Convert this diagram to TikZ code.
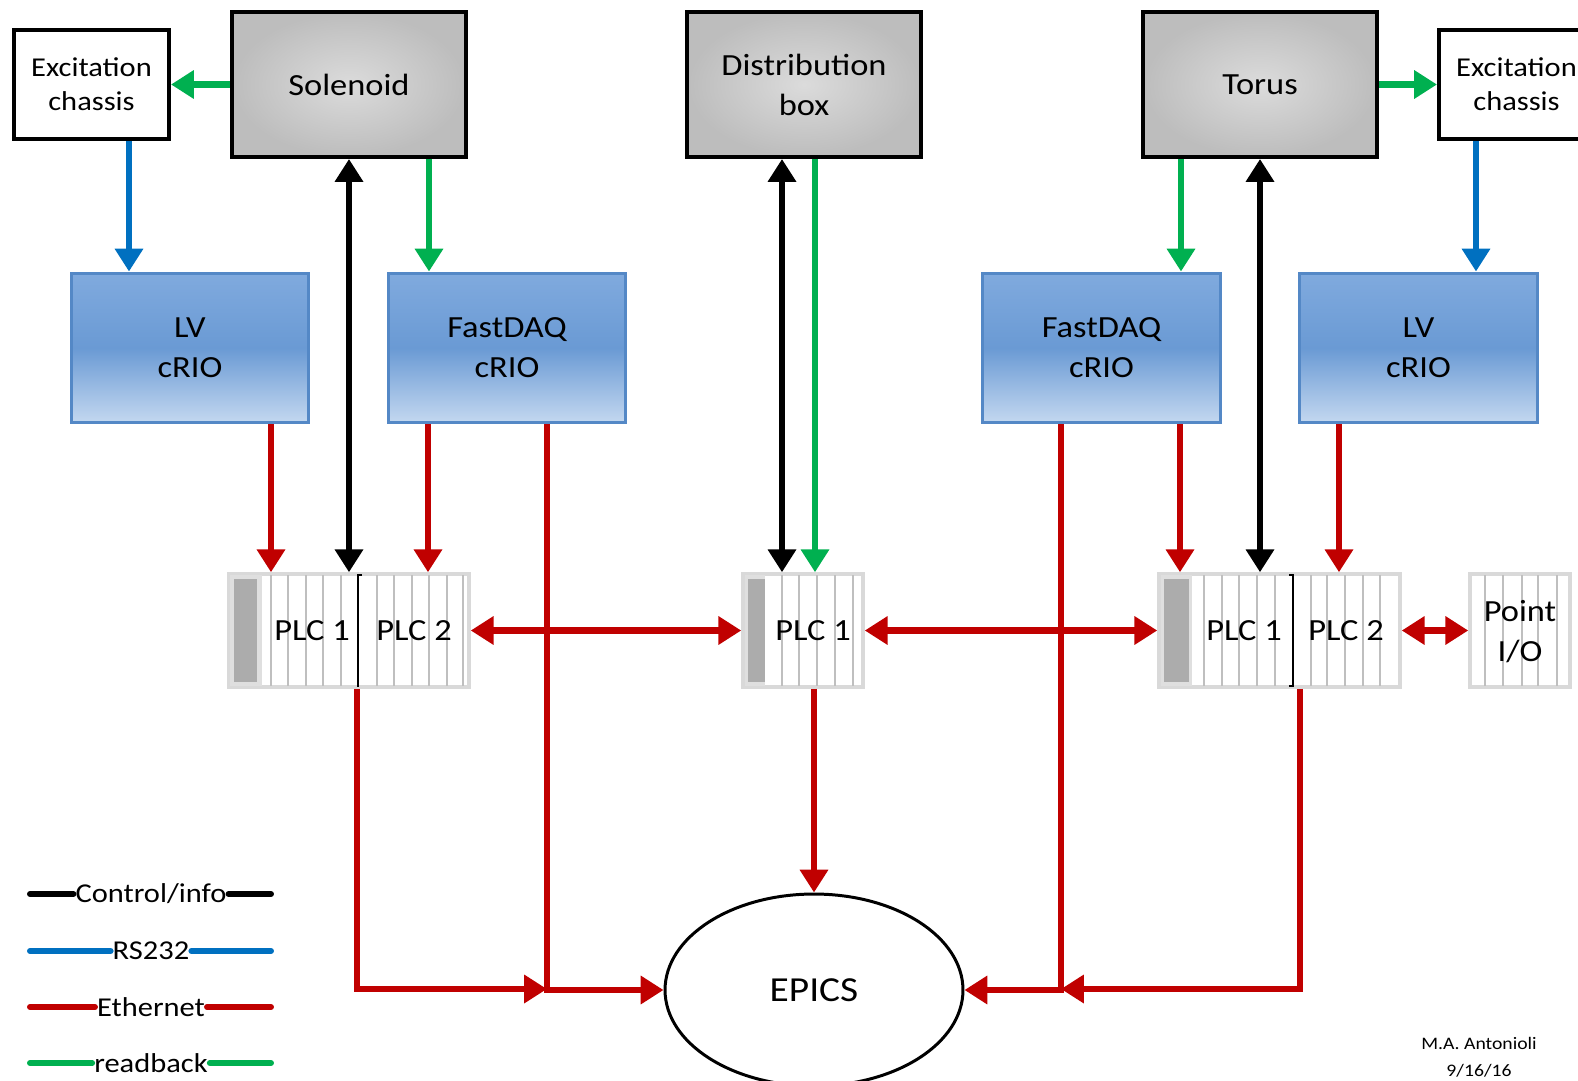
\documentclass[tikz,border=0pt]{standalone}
\usepackage{fontspec}
\setmainfont{Carlito}[FakeStretch=1.12]
\usetikzlibrary{arrows.meta,shapes.geometric}

\definecolor{ethred}{RGB}{192,0,0}
\definecolor{rbgreen}{RGB}{0,176,80}
\definecolor{rsblue}{RGB}{0,112,192}
\definecolor{crioedge}{RGB}{84,136,198}
\definecolor{criotop}{RGB}{128,170,222}
\definecolor{criomid}{RGB}{106,154,212}
\definecolor{criobot}{RGB}{196,216,240}

\tikzset{
  >={Triangle[length=13pt,width=15.5pt]},
  link/.style={line width=3.8pt},
  ctl/.style={link,black},
  eth/.style={link,ethred},
  rs/.style={link,rsblue},
  rb/.style={link,rbgreen},
  keyline/.style={line width=3.4pt,line cap=round},
  txt/.style={inner sep=0pt,align=center,font=\fontsize{17.5}{22.7}\selectfont},
  chassis/.style={draw,line width=2.3pt,fill=white,minimum width=3.1cm,minimum height=2.18cm,txt,font=\fontsize{15.5}{19.3}\selectfont},
  magnet/.style={draw,line width=2.3pt,inner color=gray!28,outer color=gray!52,minimum width=4.68cm,minimum height=2.9cm,txt},
  crio/.style={draw=crioedge,line width=1.7pt,top color=criotop,bottom color=criobot,middle color=criomid,minimum width=4.76cm,minimum height=3cm,txt},
  rack/.style={draw=gray!30,line width=2pt,fill=white,minimum height=2.26cm},
  bezel/.style={fill=gray!25},
  slotdark/.style={fill=gray!65},
  slot/.style={gray!50,line width=0.8pt},
  divider/.style={black,line width=1.2pt},
  plc/.style={txt},
  key/.style={inner sep=1pt,fill=white,font=\fontsize{15.5}{18}\selectfont},
}

\begin{document}
\begin{tikzpicture}[x=0.02cm,y=-0.02cm]
\useasboundingbox (0,0) rectangle (1578,1081);
\clip (0,0) rectangle (1578,1081);

% magnets and excitation
\node[chassis] (excL) at (91.5,84.5) {Excitation\\chassis};
\node[magnet] (sol) at (349,84.5) {Solenoid};
\node[magnet] (dist) at (804,84.5) {Distribution\\box};
\node[magnet] (tor) at (1260,84.5) {Torus};
\node[chassis] (excR) at (1516.5,84.5) {Excitation\\chassis};

% cRIOs
\node[crio] (lvL) at (190,348) {LV\\cRIO};
\node[crio] (daqL) at (507,348) {FastDAQ\\cRIO};
\node[crio] (daqR) at (1101.5,348) {FastDAQ\\cRIO};
\node[crio] (lvR) at (1418.5,348) {LV\\cRIO};

% PLC racks
\node[rack,minimum width=4.8cm] (rackL) at (349,630.5) {};
\node[rack,minimum width=2.4cm] (rackM) at (803,630.5) {};
\node[rack,minimum width=4.82cm] (rackR) at (1279.5,630.5) {};
\node[rack,minimum width=2cm] (pio) at (1520,630.5) {};
\fill[bezel] (230,575) rectangle (262,686);
\fill[slotdark] (234,579) rectangle (257,682);
\fill[bezel] (745,575) rectangle (765,686);
\fill[slotdark] (748,579) rectangle (765,682);
\fill[bezel] (1161,575) rectangle (1192,686);
\fill[slotdark] (1164,579) rectangle (1189,682);
\foreach \x in {271,288,306,323,341,377,394,412,429,447,463,
                782,799,817,835,853,
                1204,1222,1239,1257,1275,1311,1327,1345,1363,1380,
                1485,1503,1522,1538,1557}
  \draw[slot] (\x,575) -- (\x,686);
\draw[divider] (362,575) -- (358,575) -- (358,687);
\draw[divider] (1289,575) -- (1293,575) -- (1293,686) -- (1289,686);

\node[plc] (plc1L) at (312,631) {PLC 1};
\node[plc] (plc2L) at (414,631) {PLC 2};
\node[plc] (plc1M) at (813,631) {PLC 1};
\node[plc] (plc1R) at (1244,631) {PLC 1};
\node[plc] (plc2R) at (1346,631) {PLC 2};
\node[plc] (pioT) at (1520,632) {Point\\I/O};

\node[draw,ellipse,line width=1.7pt,minimum width=5.96cm,minimum height=3.84cm,inner sep=0pt,
      font=\fontsize{20}{24}\selectfont] (epics) at (814,990) {EPICS};

% columns of the vertical links
\coordinate (cRsL) at (129,0);
\coordinate (cRsR) at (1476,0);
\coordinate (cDaqL) at (429,0);
\coordinate (cDaqR) at (1181,0);
\coordinate (cDistC) at (782,0);
\coordinate (cDistR) at (815,0);
\coordinate (cLvL) at (271,0);
\coordinate (cPlcL) at (428,0);
\coordinate (cPlcR) at (1180,0);
\coordinate (cLvR) at (1339,0);
\coordinate (cOutL) at (357,0);
\coordinate (cOutR) at (1300,0);
\coordinate (jL) at (547,989);
\coordinate (jR) at (1061,989);

\draw[rb,->] (sol.west) -- (excL.east);
\draw[rb,->] (tor.east) -- (excR.west);
\draw[rs,->] (excL.south -| cRsL) -- (lvL.north -| cRsL);
\draw[rs,->] (excR.south -| cRsR) -- (lvR.north -| cRsR);
\draw[rb,->] (sol.south -| cDaqL) -- (daqL.north -| cDaqL);
\draw[rb,->] (tor.south -| cDaqR) -- (daqR.north -| cDaqR);
\draw[ctl,<->] (sol.south) -- (rackL.north);
\draw[ctl,<->] (tor.south) -- (rackR.north -| tor.south);
\draw[ctl,<->] (dist.south -| cDistC) -- (rackM.north -| cDistC);
\draw[rb,->] (dist.south -| cDistR) -- (rackM.north -| cDistR);
\draw[eth,->] (lvL.south -| cLvL) -- (rackL.north -| cLvL);
\draw[eth,->] (daqL.south -| cPlcL) -- (rackL.north -| cPlcL);
\draw[eth,->] (daqR.south -| cPlcR) -- (rackR.north -| cPlcR);
\draw[eth,->] (lvR.south -| cLvR) -- (rackR.north -| cLvR);
\draw[eth,<->] (rackL.east) -- (rackM.west);
\draw[eth,<->] (rackM.east) -- (rackR.west);
\draw[eth,<->] (rackR.east) -- (pio.west);
\draw[eth,->] (rackM.south -| epics.north) -- (epics.north);
\draw[eth,->] (daqL.south -| jL) |- (epics.west);
\draw[eth,->] (rackL.south -| cOutL) |- (jL);
\draw[eth,->] (daqR.south -| jR) |- (epics.east);
\draw[eth,->] (rackR.south -| cOutR) |- (jR);

% legend
\coordinate (k1a) at (30,894);  \coordinate (k1b) at (271,894);
\coordinate (k2a) at (30,951);  \coordinate (k2b) at (271,951);
\coordinate (k3a) at (30,1007); \coordinate (k3b) at (271,1007);
\coordinate (k4a) at (30,1063); \coordinate (k4b) at (271,1063);
\node[key] (k1) at (151,894) {Control/info};
\node[key] (k2) at (151,951) {RS232};
\node[key] (k3) at (151,1007) {Ethernet};
\node[key] (k4) at (151,1063) {readback};
\draw[ctl,keyline] (k1a) -- (k1.west) (k1.east) -- (k1b);
\draw[rs,keyline] (k2a) -- (k2.west) (k2.east) -- (k2b);
\draw[eth,keyline] (k3a) -- (k3.west) (k3.east) -- (k3b);
\draw[rb,keyline] (k4a) -- (k4.west) (k4.east) -- (k4b);

\node[txt,font=\fontsize{10}{15.3}\selectfont] (sig) at (1479,1057) {M.A. Antonioli\\9/16/16};
\end{tikzpicture}
\end{document}
